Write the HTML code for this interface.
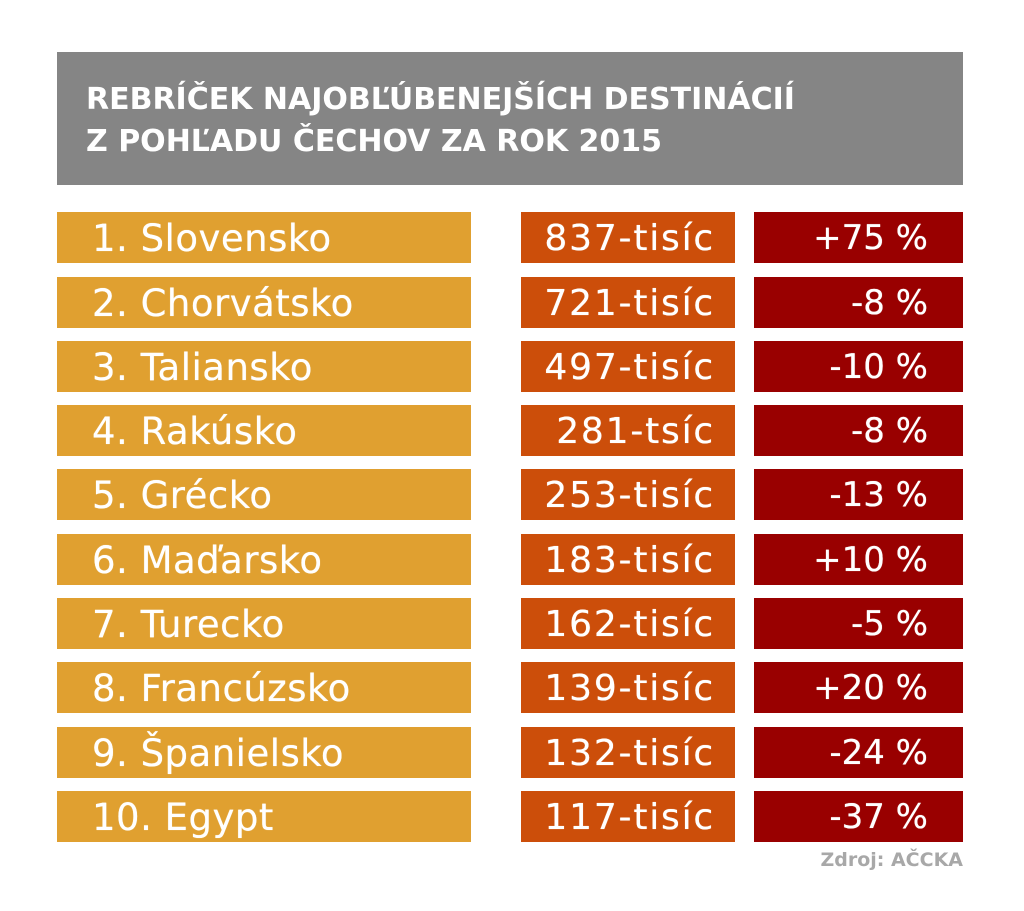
<!DOCTYPE html>
<html><head><meta charset="utf-8"><style>
body{margin:0;background:#fff;width:1024px;height:911px;position:relative;overflow:hidden;font-family:"DejaVu Sans","Liberation Sans",sans-serif;}
.h{position:absolute;left:57px;top:52px;width:906px;height:133px;background:#858585;}
.h div{position:absolute;left:29px;color:#fff;font-size:30px;font-weight:bold;letter-spacing:0px;white-space:nowrap;}
.r{position:absolute;height:51px;color:#fff;font-size:34px;line-height:53px;white-space:nowrap;text-shadow:0 0 0.6px #fff;}
.a{left:57px;width:414px;background:#e0a030;font-size:37px;}
.a span{position:absolute;left:35px;letter-spacing:0.5px;}
.b{left:521px;width:214px;background:#cc4e0a;text-align:right;font-size:36px;}
.b span{position:absolute;right:20px;letter-spacing:1.8px;}
.c{left:754px;width:209px;background:#990000;}
.c span{position:absolute;right:35px;}
.src{position:absolute;right:61px;top:849px;color:#a8a8a8;font-size:19px;font-weight:bold;}
</style></head><body>
<div class="h"><div style="top:30px">REBRÍČEK NAJOBĽÚBENEJŠÍCH DESTINÁCIÍ</div><div style="top:72px">Z POHĽADU ČECHOV ZA ROK 2015</div></div>
<div class="r a" style="top:212px"><span>1. Slovensko</span></div><div class="r b" style="top:212px"><span>837-tisíc</span></div><div class="r c" style="top:212px"><span>+75 %</span></div>
<div class="r a" style="top:277px"><span>2. Chorvátsko</span></div><div class="r b" style="top:277px"><span>721-tisíc</span></div><div class="r c" style="top:277px"><span>-8 %</span></div>
<div class="r a" style="top:341px"><span>3. Taliansko</span></div><div class="r b" style="top:341px"><span>497-tisíc</span></div><div class="r c" style="top:341px"><span>-10 %</span></div>
<div class="r a" style="top:405px"><span>4. Rakúsko</span></div><div class="r b" style="top:405px"><span>281-tsíc</span></div><div class="r c" style="top:405px"><span>-8 %</span></div>
<div class="r a" style="top:469px"><span>5. Grécko</span></div><div class="r b" style="top:469px"><span>253-tisíc</span></div><div class="r c" style="top:469px"><span>-13 %</span></div>
<div class="r a" style="top:534px"><span>6. Maďarsko</span></div><div class="r b" style="top:534px"><span>183-tisíc</span></div><div class="r c" style="top:534px"><span>+10 %</span></div>
<div class="r a" style="top:598px"><span>7. Turecko</span></div><div class="r b" style="top:598px"><span>162-tisíc</span></div><div class="r c" style="top:598px"><span>-5 %</span></div>
<div class="r a" style="top:662px"><span>8. Francúzsko</span></div><div class="r b" style="top:662px"><span>139-tisíc</span></div><div class="r c" style="top:662px"><span>+20 %</span></div>
<div class="r a" style="top:727px"><span>9. Španielsko</span></div><div class="r b" style="top:727px"><span>132-tisíc</span></div><div class="r c" style="top:727px"><span>-24 %</span></div>
<div class="r a" style="top:791px"><span>10. Egypt</span></div><div class="r b" style="top:791px"><span>117-tisíc</span></div><div class="r c" style="top:791px"><span>-37 %</span></div>
<div class="src">Zdroj: AČCKA</div>
</body></html>
